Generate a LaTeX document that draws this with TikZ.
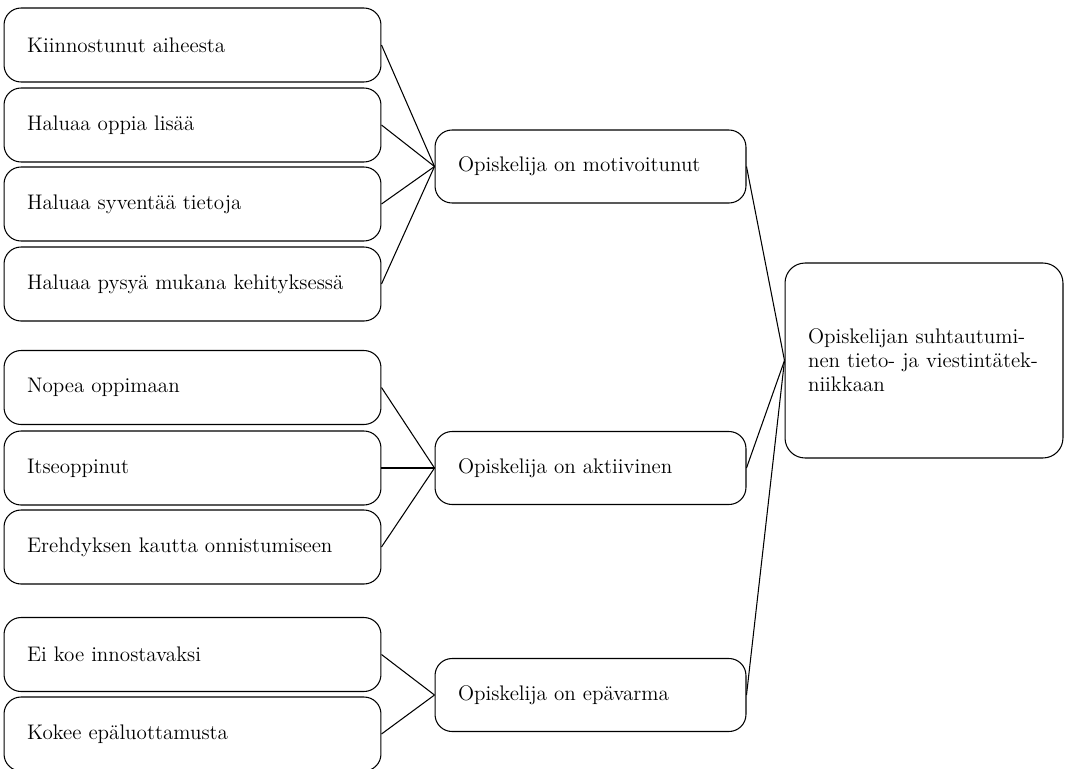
\documentclass[tikz,border=0pt]{standalone}
\usepackage{tikz}

\begin{document}
\begin{tikzpicture}[
  x=0.02cm, y=-0.02cm,
  line width=0.6pt,
  every node/.style={
    draw, rounded corners=0.34cm, align=left, inner xsep=0.46cm,
    font=\fontsize{12}{13.6}\selectfont
  },
  leafbox/.style={text width=6.62cm, minimum height=1.48cm},
  midbox/.style={text width=5.30cm, minimum height=1.46cm},
  topicbox/.style={text width=4.64cm, minimum height=3.9cm, rounded corners=0.4cm}
]
\useasboundingbox (0,0) rectangle (1069,768);

% left column
\node[leafbox] (kiin) at (192.5,45)  {Kiinnostunut aiheesta};
\node[leafbox] (oppi) at (192.5,125) {Haluaa oppia lisää};
\node[leafbox] (syve) at (192.5,204) {Haluaa syventää tietoja};
\node[leafbox] (pysy) at (192.5,284) {Haluaa pysyä mukana kehityksessä};
\node[leafbox] (nope) at (192.5,387.5) {Nopea oppimaan};
\node[leafbox] (itse) at (192.5,468) {Itseoppinut};
\node[leafbox] (ereh) at (192.5,547) {Erehdyksen kautta onnistumiseen};
\node[leafbox] (inno) at (192.5,654.5) {Ei koe innostavaksi};
\node[leafbox] (luot) at (192.5,734) {Kokee epäluottamusta};

% middle column
\node[midbox] (moti) at (590.5,166.5) {Opiskelija on motivoitunut};
\node[midbox] (akti) at (590.5,468) {Opiskelija on aktiivinen};
\node[midbox] (epav) at (590.5,695) {Opiskelija on epävarma};

% right
\node[topicbox] (suht) at (924,360.5)
  {Opiskelijan suhtautumi-\\nen tieto- ja viestintätek-\\niikkaan};

\foreach \a in {kiin,oppi,syve,pysy}
  \draw (\a.east) -- (moti.west);
\foreach \a in {nope,itse,ereh}
  \draw (\a.east) -- (akti.west);
\foreach \a in {inno,luot}
  \draw (\a.east) -- (epav.west);
\foreach \a in {moti,akti,epav}
  \draw (\a.east) -- (suht.west);
\end{tikzpicture}
\end{document}
